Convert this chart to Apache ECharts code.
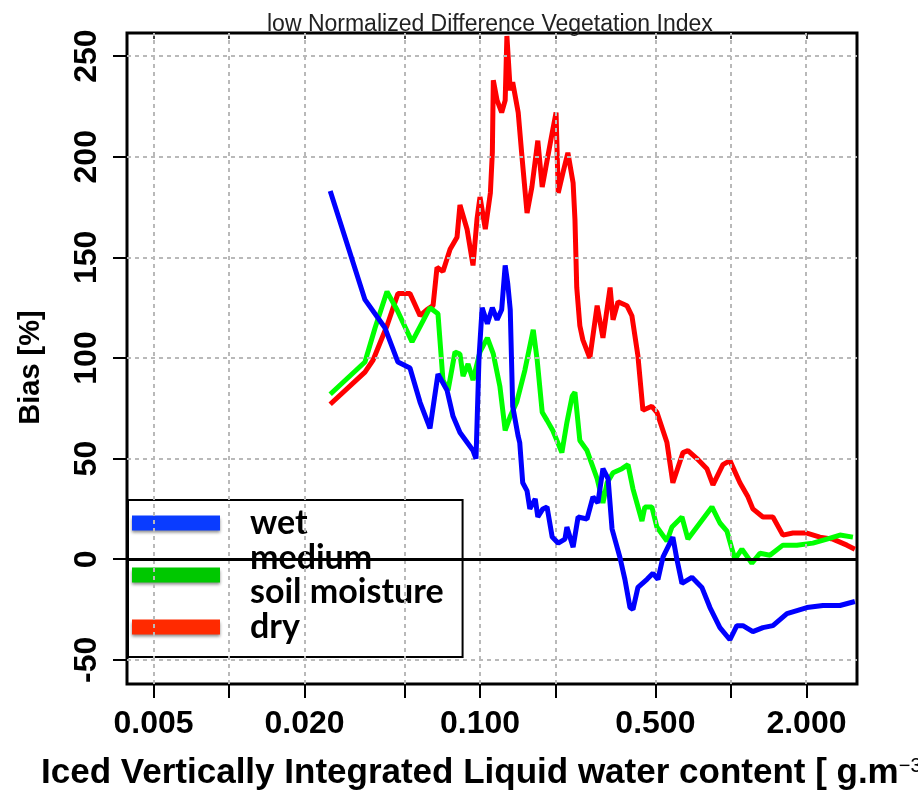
<!DOCTYPE html>
<html>
<head>
<meta charset="utf-8">
<script src="https://cdn.jsdelivr.net/npm/echarts@6/dist/echarts.min.js"></script>
<style>
  html, body { margin: 0; padding: 0; background: #fff; }
  #chart { width: 918px; height: 790px; }
</style>
</head>
<body>
<div id="chart"></div>
<script>
// Axis ticks (x in g.m-3, drawn on a log10 scale)
const xRange = [0.00392, 3.18];
const xTickValues = [0.005, 0.01, 0.02, 0.05, 0.1, 0.2, 0.5, 1, 2];
const xLabelValues = [0.005, 0.02, 0.1, 0.5, 2];
const yRange = [-62, 261.5];
const yTickValues = [-50, 0, 50, 100, 150, 200, 250];

// wet soil moisture
const wetX = [0.0253, 0.0348, 0.0418, 0.0471, 0.0526, 0.0577, 0.0632, 0.0680, 0.0739, 0.0781,
  0.0832, 0.0938, 0.0964, 0.0991, 0.102, 0.107, 0.112, 0.117, 0.122, 0.126, 0.129, 0.132,
  0.135, 0.142, 0.144, 0.148, 0.154, 0.158, 0.166, 0.170, 0.178, 0.185, 0.194, 0.205, 0.218,
  0.222, 0.235, 0.246, 0.267, 0.282, 0.295, 0.309, 0.324, 0.336, 0.361, 0.378, 0.396, 0.407,
  0.426, 0.463, 0.489, 0.512, 0.536, 0.571, 0.587, 0.609, 0.638, 0.699, 0.766, 0.825, 0.904,
  0.991, 1.056, 1.116, 1.223, 1.341, 1.470, 1.672, 2.008, 2.326, 2.719, 3.119];
const wetBias = [183, 129, 115, 98, 95, 78, 65, 92, 84, 71,
  63, 54, 50, 100, 125, 117, 125, 119, 124, 146, 137, 124,
  76, 61, 58, 38, 34, 25, 30, 21, 25, 26, 11, 8, 10,
  16, 6, 21, 20, 31, 28, 45, 40, 15, 1, -10, -24, -25,
  -14, -10, -7, -10, 1, 8, 11, 0, -12, -9, -14, -24, -34,
  -40, -33, -33, -36, -34, -33, -27, -24, -23, -23, -21];

// medium soil moisture
const mediumX = [0.0253, 0.0348, 0.0382, 0.0426, 0.0467, 0.0536, 0.0632, 0.0680, 0.0712, 0.0746,
  0.0795, 0.0832, 0.0856, 0.0896, 0.0938, 0.100, 0.107, 0.113, 0.120, 0.126, 0.132, 0.140,
  0.151, 0.163, 0.169, 0.177, 0.185, 0.195, 0.212, 0.222, 0.233, 0.239, 0.250, 0.267, 0.293,
  0.309, 0.321, 0.339, 0.368, 0.389, 0.407, 0.442, 0.454, 0.484, 0.507, 0.556, 0.582, 0.638,
  0.674, 0.732, 0.840, 0.904, 0.964, 1.037, 1.106, 1.212, 1.305, 1.430, 1.611, 1.832, 2.122,
  2.413, 2.719, 3.063];
const mediumBias = [82, 98, 115, 133, 124, 108, 125, 122, 89, 84,
  103, 102, 91, 97, 89, 103, 110, 102, 86, 64, 71, 78,
  94, 114, 99, 73, 69, 64, 53, 68, 81, 83, 59, 54, 40,
  28, 38, 43, 45, 47, 35, 19, 26, 26, 16, 9, 16, 21,
  10, 16, 26, 18, 14, 0, 5, -2, 3, 2, 7, 7, 8,
  10, 12, 11];

// dry soil moisture
const dryX = [0.0253, 0.0348, 0.0375, 0.0426, 0.0471, 0.0526, 0.0577, 0.0615, 0.0650, 0.0674,
  0.0712, 0.0760, 0.0810, 0.0832, 0.0888, 0.0938, 0.0973, 0.100, 0.105, 0.110, 0.112, 0.113,
  0.117, 0.122, 0.126, 0.128, 0.132, 0.135, 0.142, 0.147, 0.154, 0.161, 0.166, 0.170, 0.177,
  0.185, 0.194, 0.201, 0.205, 0.214, 0.224, 0.235, 0.239, 0.243, 0.250, 0.257, 0.274, 0.293,
  0.309, 0.330, 0.339, 0.355, 0.385, 0.403, 0.426, 0.446, 0.484, 0.507, 0.556, 0.587, 0.644,
  0.674, 0.732, 0.802, 0.848, 0.929, 0.991, 1.086, 1.169, 1.223, 1.341, 1.470, 1.611, 1.766,
  2.008, 2.263, 2.550, 2.899, 3.119];
const dryBias = [77, 93, 99, 116, 132, 132, 121, 124, 126, 145,
  143, 154, 160, 176, 164, 146, 169, 180, 164, 182, 202, 238,
  228, 222, 228, 260, 233, 237, 222, 200, 172, 185, 198, 208, 185,
  198, 212, 222, 182, 192, 202, 187, 169, 135, 116, 109, 100, 126,
  110, 135, 119, 128, 126, 121, 101, 74, 76, 73, 58, 38, 53,
  54, 50, 45, 37, 47, 49, 38, 31, 25, 21, 21, 12, 13,
  13, 11, 10, 7, 5];

const lg = v => Math.log10(v);
const pairs = (xs, ys) => xs.map((x, i) => [lg(x), ys[i]]);

const tickFont = 'Liberation Sans, Arial, sans-serif';
const gridDash = { color: '#b9b9b9', width: 2, type: [4, 4] };
const iconShadow = { shadowBlur: 3, shadowColor: 'rgba(0,0,0,0.45)', shadowOffsetY: 2 };

const chart = echarts.init(document.getElementById('chart'), null, { renderer: 'canvas' });

chart.setOption({
  animation: false,
  backgroundColor: '#fff',
  title: {
    text: 'low Normalized Difference Vegetation Index',
    left: 262,
    top: 8,
    textStyle: { fontFamily: 'Liberation Sans Narrow, Liberation Sans, sans-serif', fontWeight: 'normal', fontSize: 23, color: '#222' }
  },
  grid: {
    left: 127, right: 61, top: 33, bottom: 106,
    outerBoundsMode: 'none',
    containLabel: false,
    show: true, borderColor: '#000', borderWidth: 3, backgroundColor: '#fff'
  },
  legend: {
    orient: 'vertical',
    left: 128, top: 500,
    selectedMode: false,
    icon: 'rect',
    itemWidth: 88, itemHeight: 15, itemGap: 1,
    backgroundColor: '#fff', borderColor: '#000', borderWidth: 2,
    padding: [6, 19, 13, 4],
    formatter: n => n === 'medium' ? 'medium\nsoil moisture' : n,
    textStyle: { fontFamily: 'Lato, sans-serif', fontWeight: 'bold', fontSize: 34, lineHeight: 34, color: '#000', padding: [0, 0, 0, 25] },
    data: [
      { name: 'wet', itemStyle: Object.assign({ color: '#0a3cff' }, iconShadow) },
      { name: 'medium', itemStyle: Object.assign({ color: '#00c800' }, iconShadow) },
      { name: 'dry', itemStyle: Object.assign({ color: '#ff2a00' }, iconShadow) }
    ]
  },
  xAxis: [{
    type: 'value',
    position: 'bottom',
    min: lg(xRange[0]), max: lg(xRange[1]),
    axisLine: { show: false, onZero: false },
    splitLine: { show: false },
    axisTick: { show: true, inside: false, length: 14, customValues: xTickValues.map(lg), lineStyle: { color: '#000', width: 2 } },
    axisLabel: {
      customValues: xLabelValues.map(lg),
      formatter: v => Math.pow(10, v).toFixed(3),
      margin: 24,
      fontFamily: tickFont, fontWeight: 'bold', fontSize: 32, color: '#000'
    },
    name: 'Iced Vertically Integrated Liquid water content [ g.m{sup|\u22123} ]',
    nameLocation: 'middle',
    nameGap: 72,
    nameTextStyle: {
      fontFamily: tickFont, fontWeight: 'bold', fontSize: 35, color: '#000',
      rich: { sup: { fontFamily: tickFont, fontWeight: 'normal', fontSize: 20, verticalAlign: 'top', color: '#000' } }
    }
  }, {
    type: 'value',
    position: 'top',
    min: lg(xRange[0]), max: lg(xRange[1]),
    axisLine: { show: false, onZero: false },
    splitLine: { show: false },
    axisTick: { show: true, inside: true, length: 6, customValues: xTickValues.map(lg), lineStyle: { color: '#000', width: 1.5 } },
    axisLabel: { show: false }
  }],
  yAxis: {
    type: 'value',
    position: 'left',
    min: yRange[0], max: yRange[1],
    axisLine: { show: false, onZero: false },
    splitLine: { show: false },
    axisTick: { show: true, inside: false, length: 14, customValues: yTickValues, lineStyle: { color: '#000', width: 2 } },
    axisLabel: {
      customValues: yTickValues,
      rotate: 90,
      margin: 24,
      fontFamily: tickFont, fontWeight: 'bold', fontSize: 32, color: '#000'
    },
    name: 'Bias [%]',
    nameLocation: 'middle',
    nameGap: 82,
    nameRotate: 90,
    nameTextStyle: { fontFamily: tickFont, fontWeight: 'bold', fontSize: 29, color: '#000', padding: [0, 18, 0, 0] }
  },
  series: [
    {
      name: 'grid',
      type: 'line',
      data: [],
      z: 1,
      silent: true,
      markLine: {
        silent: true,
        symbol: 'none',
        label: { show: false },
        lineStyle: gridDash,
        data: [
          ...xTickValues.map(v => ({ xAxis: lg(v) })),
          ...yTickValues.map(v => ({ yAxis: v })),
          { yAxis: 0, lineStyle: { color: '#000', width: 3, type: 'solid' } }
        ]
      }
    },
    { name: 'dry', type: 'line', z: 3, showSymbol: false, data: pairs(dryX, dryBias),
      lineStyle: { color: '#ff0000', width: 5 }, itemStyle: { color: '#ff0000' } },
    { name: 'medium', type: 'line', z: 4, showSymbol: false, data: pairs(mediumX, mediumBias),
      lineStyle: { color: '#00ff00', width: 5 }, itemStyle: { color: '#00ff00' } },
    { name: 'wet', type: 'line', z: 5, showSymbol: false, data: pairs(wetX, wetBias),
      lineStyle: { color: '#0000ff', width: 5 }, itemStyle: { color: '#0000ff' } }
  ]
});
</script>
</body>
</html>
